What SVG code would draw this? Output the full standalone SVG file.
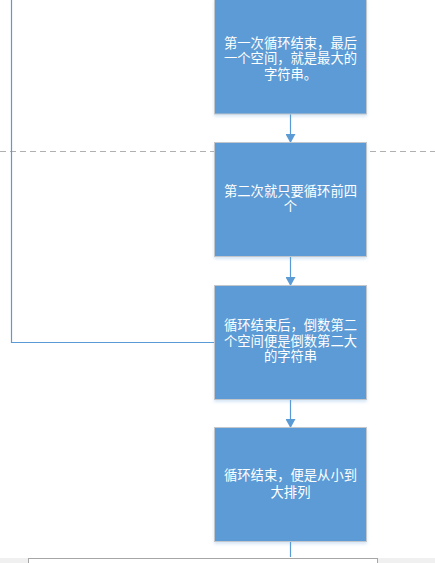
<svg xmlns="http://www.w3.org/2000/svg" width="435" height="563" viewBox="0 0 435 563">
<style>
.box{fill:#5b9bd5;stroke:#c3c7cc;stroke-width:1}
.t{font-family:"Liberation Sans","Noto Sans CJK SC",sans-serif;font-size:13.3px;fill:#ffffff;text-anchor:middle}
.ln{stroke:#5b9bd5;stroke-width:1.2;fill:none}
</style>
<defs>
<marker id="ah" markerWidth="10" markerHeight="10" refX="8" refY="5" orient="auto" markerUnits="userSpaceOnUse">
<path d="M0,0 L9,5 L0,10 Z" fill="#5b9bd5"/>
</marker>
<filter id="sh" x="-10%" y="-10%" width="120%" height="130%">
<feDropShadow dx="0" dy="2" stdDeviation="1.5" flood-color="#5b9bd5" flood-opacity="0.25"/>
</filter>
</defs>
<rect x="0" y="0" width="435" height="563" fill="#ffffff"/>
<line x1="0" y1="151.5" x2="435" y2="151.5" stroke="#b0b0b0" stroke-width="1" stroke-dasharray="6,4"/>
<g id="connectors">
<line class="ln" x1="290.5" y1="114" x2="290.5" y2="142" marker-end="url(#ah)"/>
<line class="ln" x1="290.5" y1="256" x2="290.5" y2="285" marker-end="url(#ah)"/>
<line class="ln" x1="290.5" y1="399" x2="290.5" y2="427" marker-end="url(#ah)"/>
<line class="ln" x1="290.5" y1="541" x2="290.5" y2="557"/>
<polyline class="ln" points="11.5,0 11.5,342.5 214,342.5"/>
</g>
<g id="node1">
<rect class="box" x="214.5" y="-1" width="152" height="115" filter="url(#sh)"/>
<text class="t" x="290.5" y="47.5">第一次循环结束，最后</text>
<text class="t" x="290.5" y="63">一个空间，就是最大的</text>
<text class="t" x="290.5" y="78.5">字符串。</text>
</g>
<g id="node2">
<rect class="box" x="214.5" y="142.5" width="152" height="114" filter="url(#sh)"/>
<text class="t" x="290.5" y="195.5">第二次就只要循环前四</text>
<text class="t" x="290.5" y="211">个</text>
</g>
<g id="node3">
<rect class="box" x="214.5" y="285.5" width="152" height="114" filter="url(#sh)"/>
<text class="t" x="290.5" y="330">循环结束后，倒数第二</text>
<text class="t" x="290.5" y="345.5">个空间便是倒数第二大</text>
<text class="t" x="290.5" y="361">的字符串</text>
</g>
<g id="node4">
<rect class="box" x="214.5" y="427.5" width="152" height="114" filter="url(#sh)"/>
<text class="t" x="290.5" y="480">循环结束，便是从小到</text>
<text class="t" x="290.5" y="497">大排列</text>
</g>
<rect x="0" y="558" width="435" height="5" fill="#f0f0f0"/>
<rect x="28.5" y="558.5" width="349" height="10" fill="#ffffff" stroke="#a6a6a6" stroke-width="1"/>
</svg>
